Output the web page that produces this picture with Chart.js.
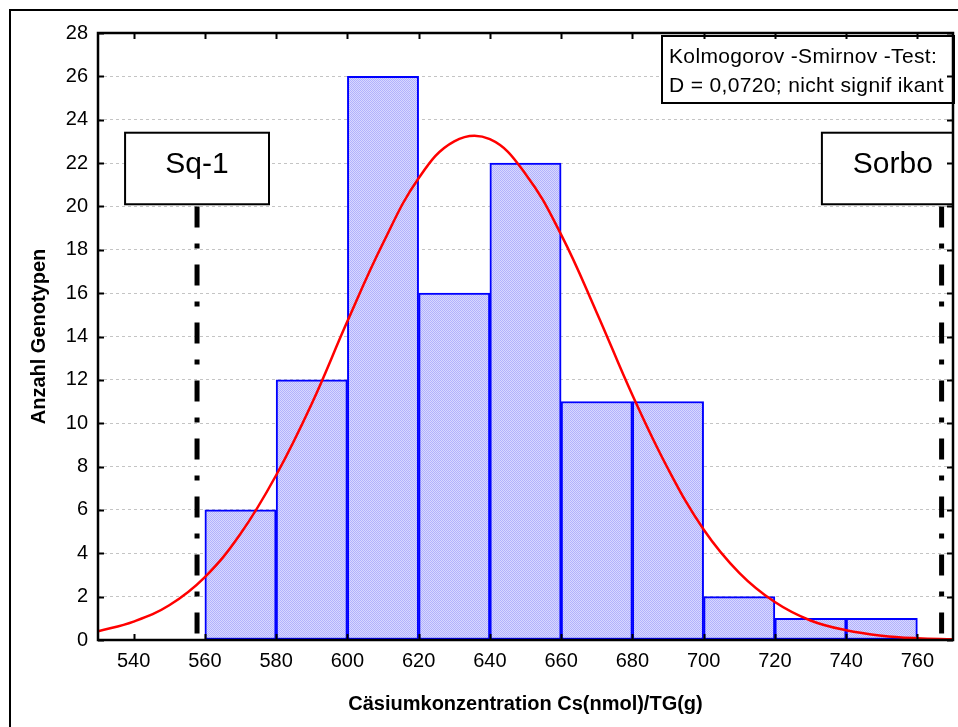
<!DOCTYPE html>
<html>
<head>
<meta charset="utf-8">
<script src="https://cdn.jsdelivr.net/npm/chart.js@4/dist/chart.umd.min.js"></script>
<style>
  body { margin: 0; background: #fff; }
  canvas { display: block; }
</style>
</head>
<body>
<canvas id="hist" width="958" height="727"></canvas>
<script>
// Histogram bins (class midpoints) and counts
const binMids = [570, 590, 610, 630, 650, 670, 690, 710, 730, 750];
const counts  = [6, 12, 26, 16, 22, 11, 11, 2, 1, 1];

// Fitted normal curve, read every 10 units
const curveX = [530, 540, 550, 560, 570, 580, 590, 600, 610, 620, 630, 640, 650,
                660, 670, 680, 690, 700, 710, 720, 730, 740, 750, 760, 770];
const curveY = [0.4, 0.85, 1.6, 2.9, 4.9, 7.6, 10.9, 14.7, 18.3, 21.3, 23.0, 23.1, 21.5,
                18.7, 15.1, 11.3, 7.9, 5.1, 3.1, 1.75, 0.9, 0.45, 0.2, 0.08, 0.03];

// Axis ticks
const xTicks = [540, 560, 580, 600, 620, 640, 660, 680, 700, 720, 740, 760];
const yTicks = [0, 2, 4, 6, 8, 10, 12, 14, 16, 18, 20, 22, 24, 26, 28];

// Reference varieties (vertical markers)
const refNames = ["Sq-1", "Sorbo"];
const refX = [557.8, 766.8];
const refTop = 20;

const ksLines = ["Kolmogorov -Smirnov -Test:", "D = 0,0720; nicht signif ikant"];

const FONT = 'Arial, "Liberation Sans", sans-serif';

// checkered light blue fill for the bars
function barPattern() {
  const c = document.createElement("canvas");
  c.width = 2; c.height = 2;
  const g = c.getContext("2d");
  g.fillStyle = "#d8d8ff"; g.fillRect(0, 0, 2, 2);
  g.fillStyle = "#b2b2fc"; g.fillRect(0, 0, 1, 1); g.fillRect(1, 1, 1, 1);
  return g.createPattern(c, "repeat");
}

// label boxes in data units (Sorbo box runs past the plot edge and is clipped)
const labelBoxes = [
  { text: refNames[0], xMin: 537.6, xMax: 578.0, yMin: 20.1, yMax: 23.4 },
  { text: refNames[1], xMin: 733.2, xMax: 773.0, yMin: 20.1, yMax: 23.4 }
];

const framePlugin = {
  id: "frame",
  afterDatasetsDraw(chart) {
    const { ctx, chartArea: a, scales: { x, y } } = chart;
    ctx.save();

    // reference boxes
    ctx.save();
    ctx.beginPath();
    ctx.rect(a.left, a.top, a.right - a.left, a.bottom - a.top);
    ctx.clip();
    labelBoxes.forEach(b => {
      const l = x.getPixelForValue(b.xMin), r = x.getPixelForValue(b.xMax);
      const t = y.getPixelForValue(b.yMax), btm = y.getPixelForValue(b.yMin);
      ctx.fillStyle = "#fff";
      ctx.fillRect(l, t, r - l, btm - t);
      ctx.lineWidth = 2;
      ctx.strokeStyle = "#000";
      ctx.strokeRect(l, t, r - l, btm - t);
      ctx.fillStyle = "#000";
      ctx.font = "30px " + FONT;
      ctx.textAlign = "center";
      ctx.textBaseline = "alphabetic";
      ctx.fillText(b.text, (l + r) / 2, t + 40);
    });
    ctx.restore();

    // test result box
    const kw = 292, kh = 67;
    const kl = a.right + 1 - kw, kt = a.top + 3;
    ctx.fillStyle = "#fff";
    ctx.fillRect(kl, kt, kw, kh);
    ctx.lineWidth = 2;
    ctx.strokeStyle = "#000";
    ctx.strokeRect(kl, kt, kw, kh);
    ctx.fillStyle = "#000";
    ctx.font = "21px " + FONT;
    ctx.letterSpacing = "0.35px";
    ctx.textAlign = "left";
    ctx.textBaseline = "alphabetic";
    ctx.fillText(ksLines[0], kl + 7, kt + 27);
    ctx.fillText(ksLines[1], kl + 7, kt + 56);
    ctx.letterSpacing = "0px";

    // plot frame
    ctx.lineWidth = 2.5;
    ctx.strokeStyle = "#000";
    ctx.strokeRect(a.left, a.top, a.right - a.left, a.bottom - a.top);

    // inward tick marks
    ctx.lineWidth = 2;
    ctx.beginPath();
    xTicks.forEach(v => {
      const px = Math.round(x.getPixelForValue(v)) + 0.5;
      ctx.moveTo(px, a.bottom); ctx.lineTo(px, a.bottom - 6);
      ctx.moveTo(px, a.top); ctx.lineTo(px, a.top + 6);
    });
    yTicks.forEach(v => {
      const py = Math.round(y.getPixelForValue(v)) + 0.5;
      ctx.moveTo(a.left, py); ctx.lineTo(a.left + 6, py);
      ctx.moveTo(a.right, py); ctx.lineTo(a.right - 6, py);
    });
    ctx.stroke();

    // outer frame
    ctx.lineWidth = 2;
    ctx.strokeRect(10, 10, chart.width + 20, chart.height + 20);
    ctx.restore();
  }
};

const markerSets = refX.map(v => ({
  type: "line",
  data: [{ x: v, y: refTop }, { x: v, y: 0 }],
  borderColor: "#000",
  borderWidth: 5,
  borderDash: [21, 16, 5, 16],
  borderCapStyle: "butt",
  pointRadius: 0,
  order: 0
}));

new Chart(document.getElementById("hist"), {
  type: "bar",
  data: {
    datasets: [
      ...markerSets,
      {
        type: "line",
        data: curveX.map((v, i) => ({ x: v, y: curveY[i] })),
        borderColor: "#ff0000",
        borderWidth: 2.5,
        tension: 0.4,
        pointRadius: 0,
        order: 1
      },
      {
        type: "bar",
        data: binMids.map((v, i) => ({ x: v, y: counts[i] })),
        backgroundColor: barPattern(),
        borderColor: "#0000ff",
        borderWidth: 2,
        borderSkipped: false,
        barPercentage: 1,
        categoryPercentage: 1,
        order: 3
      }
    ]
  },
  options: {
    responsive: false,
    animation: false,
    devicePixelRatio: 1,
    layout: { padding: { top: 33, right: 5, left: 0, bottom: 0 } },
    plugins: { legend: { display: false }, tooltip: { enabled: false } },
    scales: {
      x: {
        type: "linear",
        offset: false,
        min: 530,
        max: 770,
        afterBuildTicks: s => { s.ticks = xTicks.map(v => ({ value: v })); },
        afterFit: s => { s.height = 87; },
        grid: { display: false, drawTicks: false, offset: false },
        border: { display: false },
        ticks: { color: "#000", padding: 9, font: { family: FONT, size: 20 } },
        title: {
          display: true,
          text: "Cäsiumkonzentration Cs(nmol)/TG(g)",
          color: "#000",
          padding: { top: 0, bottom: 11 },
          font: { family: FONT, size: 20, weight: "bold" }
        }
      },
      y: {
        min: 0,
        max: 28,
        afterBuildTicks: s => { s.ticks = yTicks.map(v => ({ value: v })); },
        afterFit: s => { s.width = 98; },
        grid: { color: "#c4c4c4", lineWidth: 1, drawTicks: false },
        border: { display: false, dash: [3, 3] },
        ticks: { color: "#000", padding: 10, font: { family: FONT, size: 20 } },
        title: {
          display: true,
          text: "Anzahl Genotypen",
          color: "#000",
          padding: { top: 27, bottom: 0 },
          font: { family: FONT, size: 20, weight: "bold" }
        }
      }
    }
  },
  plugins: [framePlugin]
});
</script>
</body>
</html>
